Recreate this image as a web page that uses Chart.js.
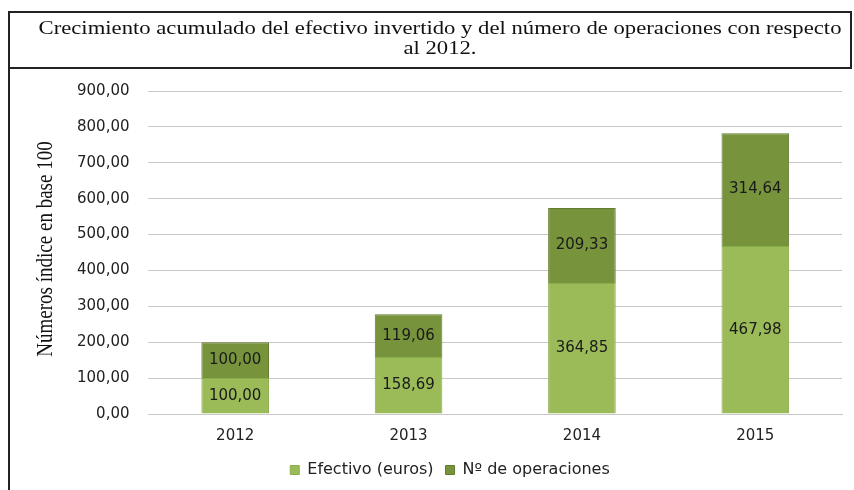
<html>
<head>
<meta charset="UTF-8" />
<script src="https://cdn.jsdelivr.net/npm/chart.js"></script>
<style>
  body { margin: 0; padding: 0; background: #ffffff; }
  #wrap { position: relative; width: 854px; height: 490px; }
</style>
</head>
<body>
<div id="wrap"><canvas id="grafico" width="854" height="490"></canvas></div>
<script>
// datos
var years = ["2012", "2013", "2014", "2015"];
var efectivo = [100.00, 158.69, 364.85, 467.98];
var operaciones = [100.00, 119.06, 209.33, 314.64];
var tituloLineas = ["Crecimiento acumulado del efectivo invertido y del número de operaciones con respecto", "al 2012."];
var tituloEje = "Números índice en base 100";

function coma(v) {
    return v.toFixed(2).replace(".", ",");
}

// marco del titulo, titulo (algo estirado) y titulo del eje
var marcoPlugin = {
    id: "marco",
    afterDraw: function(chart) {
        var ctx = chart.ctx;
        ctx.save();
        ctx.strokeStyle = "#222222";
        ctx.lineWidth = 2;
        ctx.strokeRect(9, 12, 842, 56);
        ctx.beginPath();
        ctx.moveTo(9, 68);
        ctx.lineTo(9, 490);
        ctx.stroke();

        ctx.fillStyle = "#111111";
        ctx.textAlign = "center";
        ctx.textBaseline = "middle";
        ctx.font = "18px 'Liberation Serif'";
        ctx.save();
        ctx.translate(440, 0);
        ctx.scale(1.26, 1);
        ctx.fillText(tituloLineas[0], 0, 29);
        ctx.fillText(tituloLineas[1], 0, 49);
        ctx.restore();

        ctx.save();
        ctx.translate(46, 249);
        ctx.rotate(-Math.PI / 2);
        ctx.scale(1, 1.25);
        ctx.font = "19px 'Liberation Serif'";
        ctx.fillText(tituloEje, 0, 0);
        ctx.restore();
        ctx.restore();
    }
};

// valores dentro de cada barra
var etiquetasPlugin = {
    id: "etiquetas",
    afterDatasetsDraw: function(chart) {
        var ctx = chart.ctx;
        ctx.save();
        ctx.font = "15px 'DejaVu Sans'";
        ctx.fillStyle = "#1a1a1a";
        ctx.textAlign = "center";
        ctx.textBaseline = "middle";
        chart.data.datasets.forEach(function(ds, i) {
            var meta = chart.getDatasetMeta(i);
            meta.data.forEach(function(bar, j) {
                var y = (bar.y + bar.base) / 2;
                ctx.fillText(coma(ds.data[j]), bar.x, y);
            });
        });
        ctx.restore();
    }
};

new Chart(document.getElementById("grafico"), {
    type: "bar",
    data: {
        labels: years,
        datasets: [
            {
                label: "Efectivo (euros)",
                data: efectivo,
                backgroundColor: "#9BBB59",
                borderColor: "#8AAD4B",
                borderWidth: 1,
                barPercentage: 0.78,
                categoryPercentage: 0.5
            },
            {
                label: "Nº de operaciones",
                data: operaciones,
                backgroundColor: "#77933C",
                borderColor: "#617B2F",
                borderWidth: 1,
                barPercentage: 0.78,
                categoryPercentage: 0.5
            }
        ]
    },
    options: {
        responsive: false,
        animation: false,
        layout: { padding: { left: 58, right: 12, top: 91, bottom: 2 } },
        scales: {
            x: {
                stacked: true,
                grid: { display: false },
                border: { color: "#c8c8c8" },
                ticks: { color: "#222222", font: { family: "DejaVu Sans", size: 15 }, padding: 5 }
            },
            y: {
                stacked: true,
                min: 0,
                max: 900,
                ticks: {
                    stepSize: 100,
                    color: "#222222",
                    font: { family: "DejaVu Sans", size: 15 },
                    padding: 19,
                    callback: function(v) { return coma(v); }
                },
                grid: { color: "#c8c8c8", drawTicks: false },
                border: { display: false }
            }
        },
        plugins: {
            title: { display: false },
            legend: {
                position: "bottom",
                labels: {
                    boxWidth: 9,
                    boxHeight: 9,
                    color: "#222222",
                    font: { family: "DejaVu Sans", size: 16 },
                    padding: 12
                }
            },
            tooltip: { enabled: false }
        }
    },
    plugins: [marcoPlugin, etiquetasPlugin]
});
</script>
</body>
</html>
